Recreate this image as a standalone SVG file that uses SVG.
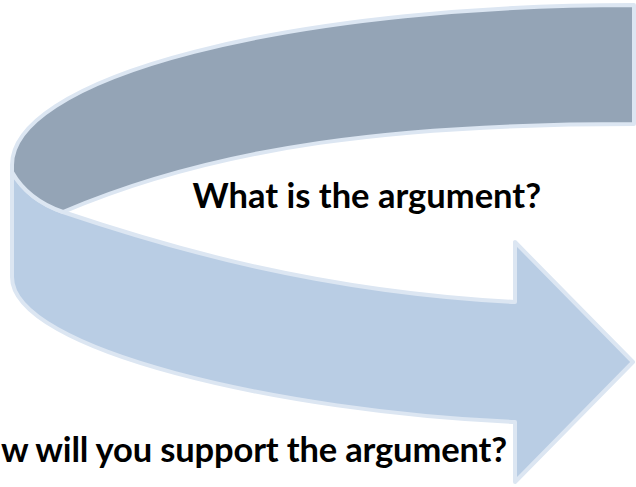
<svg xmlns="http://www.w3.org/2000/svg" width="636" height="487" viewBox="0 0 636 487">
  <style>
    .band { stroke: #dce6f2; stroke-width: 4; stroke-linejoin: round; }
    .back { fill: #94a4b6; }
    .front { fill: #b9cde4; }
    .label { font-family: Lato, "Open Sans", "Liberation Sans", sans-serif; font-weight: 700; font-size: 34.5px; fill: #000000; }
  </style>
  <rect width="636" height="487" fill="#ffffff"/>
  <g id="curved-arrow">
    <path class="band front" d="M12,172 L12,277 C12,350 280,412 515,422 L515,482 L633,362 L515,242 L515,302 C320,292 170,248 63,212 Q28,200 12,172 Z"/>
    <path class="band back" d="M634,5 L634,124 C400,124 220,145 63,212 Q28,200 12,172 L12,165 A622,160 0 0 1 634,5 Z"/>
  </g>
  <g id="label-argument">
    <text class="label" x="541" y="208" text-anchor="end">What is the argument?</text>
  </g>
  <g id="label-support">
    <text class="label" x="1" y="462" textLength="506">w will you support the argument?</text>
  </g>
</svg>
